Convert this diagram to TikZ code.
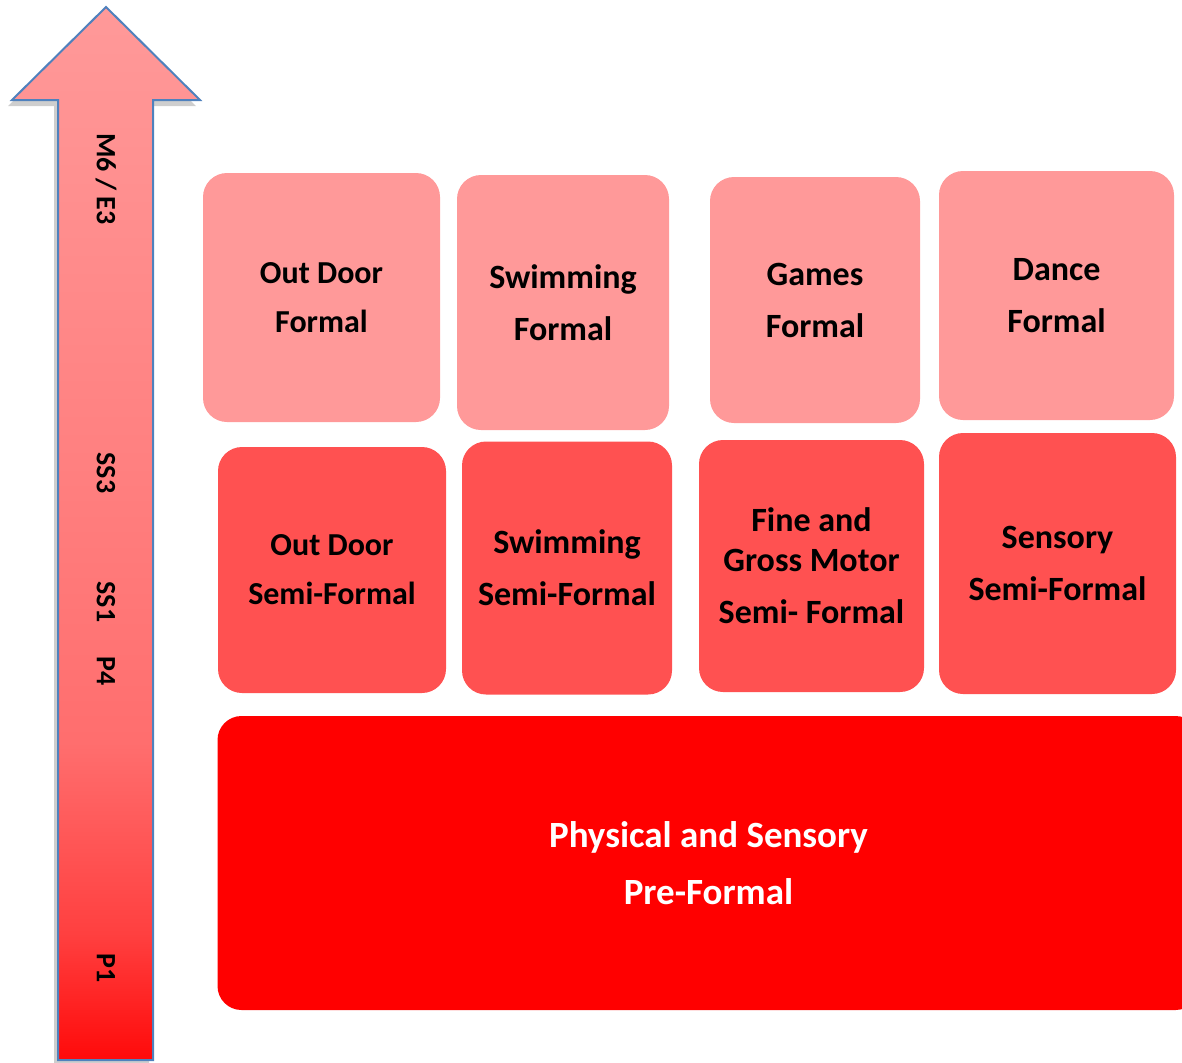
\documentclass[tikz,border=0pt]{standalone}
\usepackage{fontspec}
\setmainfont{Carlito}
\definecolor{formalpink}{HTML}{FF9999}
\definecolor{semired}{HTML}{FF5151}
\definecolor{prered}{HTML}{FF0000}
\definecolor{arrowblue}{HTML}{4F81BD}
% gradient of the stage arrow, bottom to top
\pgfdeclareverticalshading{stagearrow}{100bp}{
    color(0bp)=(red!100!white); color(25bp)=(red!96!white);
    color(31bp)=(red!75!white); color(40bp)=(red!57!white);
    color(53bp)=(red!50!white); color(66bp)=(red!44!white);
    color(75bp)=(red!40!white); color(100bp)=(red!40!white)
}
\tikzset {
    box/.style = {
        rectangle, rounded corners = 12pt, align = center, inner sep = 0pt,
        font = \bfseries\fontsize{17}{26}\selectfont
    },
    formal box/.style = {box, fill = formalpink},
    semi box/.style = {box, fill = semired},
    pre box/.style = {
        box, fill = prered, text = white,
        font = \bfseries\fontsize{18.5}{28.5}\selectfont
    },
    small text/.style = {font = \bfseries\fontsize{16}{24.5}\selectfont},
    stage/.style = {rotate = -90, inner sep = 0pt, font = \bfseries\fontsize{14}{16}\selectfont},
}
\begin{document}
\begin{tikzpicture}[x = 0.5pt, y = -0.5pt]
    \useasboundingbox (0, 0) rectangle (1182, 1062);
    % stage arrow
    \fill [gray!55, opacity = 0.7, shift = {(-4, 6)}]
        (106, 7) -- (200, 100) -- (153, 100) -- (153, 1060)
        -- (58, 1060) -- (58, 100) -- (12, 100) -- cycle;
    \draw [arrowblue, line width = 1pt, shading = stagearrow]
        (106, 7) -- (200, 100) -- (153, 100) -- (153, 1060)
        -- (58, 1060) -- (58, 100) -- (12, 100) -- cycle;
    \node (m6) [stage] at (106, 179) {M6 / E3};
    \node (ss3) [stage] at (106, 473) {SS3};
    \node (ss1) [stage] at (106, 602) {SS1};
    \node (p4) [stage] at (106, 671) {P4};
    \node (p1) [stage] at (106, 968) {P1};
    % formal
    \node (outdoorF) [formal box, small text, minimum width = 118.5pt, minimum height = 124.5pt]
        at (321.5, 297.5) {Out Door\\Formal};
    \node (swimF) [formal box, minimum width = 106pt, minimum height = 127.5pt]
        at (563, 302.5) {Swimming\\Formal};
    \node (gamesF) [formal box, minimum width = 105pt, minimum height = 123pt]
        at (815, 300) {Games\\Formal};
    \node (danceF) [formal box, minimum width = 117.5pt, minimum height = 124.5pt]
        at (1056.5, 295.5) {Dance\\Formal};
    % semi-formal
    \node (outdoorS) [semi box, small text, minimum width = 114pt, minimum height = 123pt]
        at (332, 570) {Out Door\\Semi-Formal};
    \node (swimS) [semi box, minimum width = 105pt, minimum height = 126.5pt]
        at (567, 568) {Swimming\\Semi-Formal};
    \node (motorS) [semi box, minimum width = 112.5pt, minimum height = 126pt]
        at (811.5, 566) {Fine and\\[-6pt]Gross Motor\\Semi- Formal};
    \node (sensoryS) [semi box, minimum width = 118.5pt, minimum height = 130.5pt]
        at (1057.5, 563.5) {Sensory\\Semi-Formal};
    % pre-formal
    \node (pre) [pre box, minimum width = 491pt, minimum height = 147pt]
        at (708.5, 863) {Physical and Sensory\\Pre-Formal};
\end{tikzpicture}
\end{document}
